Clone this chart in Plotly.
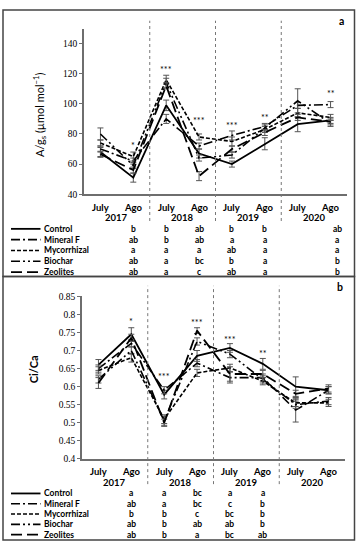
import plotly.graph_objects as go

# ---------------- data ----------------
months = ["July", "Ago", "July", "Ago", "July", "Ago", "July", "Ago"]
years = ["2017", "2018", "2019", "2020"]
series_names = ["Control", "Mineral F", "Mycorrhizal", "Biochar", "Zeolites"]

# panel a : A/gs
a_control = [68, 51, 99, 67, 60, 73.5, 86.5, 89]
a_mineral = [70, 62, 90, 72, 79, 85, 99, 99.5]
a_myco = [74, 65, 116, 78, 75, 83, 94, 91]
a_biochar = [80, 59, 114, 64, 66, 84, 102, 87]
a_zeo = [66.5, 56, 112, 52, 70, 81, 91, 88]

a_err_control = [3, 3, 3.5, 3, 2, 4, 5, 2]
a_err_mineral = [2, 2, 3, 2, 3, 2, 2, 2]
a_err_myco = [2, 3, 3, 2, 3, 2, 3, 2]
a_err_biochar = [4, 2, 3, 2, 2, 2, 8, 2]
a_err_zeo = [2, 2, 2, 3, 2, 2, 2, 2]

# panel b : Ci/Ca
b_control = [0.66, 0.745, 0.578, 0.685, 0.707, 0.663, 0.60, 0.59]
b_mineral = [0.65, 0.72, 0.59, 0.665, 0.625, 0.625, 0.535, 0.59]
b_myco = [0.645, 0.68, 0.51, 0.638, 0.652, 0.615, 0.555, 0.555]
b_biochar = [0.62, 0.70, 0.505, 0.725, 0.69, 0.62, 0.55, 0.56]
b_zeo = [0.61, 0.735, 0.50, 0.755, 0.635, 0.635, 0.58, 0.595]

b_err_control = [0.015, 0.018, 0.012, 0.015, 0.012, 0.015, 0.027, 0.01]
b_err_mineral = [0.01, 0.01, 0.01, 0.01, 0.015, 0.01, 0.033, 0.01]
b_err_myco = [0.01, 0.012, 0.012, 0.01, 0.01, 0.01, 0.01, 0.01]
b_err_biochar = [0.01, 0.01, 0.012, 0.01, 0.01, 0.01, 0.01, 0.01]
b_err_zeo = [0.015, 0.01, 0.01, 0.008, 0.02, 0.01, 0.01, 0.01]

# significance stars (category index, text, value)
a_star_x = [1, 2, 3, 4, 5, 7]
a_star_text = ["*", "***", "***", "***", "**", "**"]
a_star_y = [72.4, 122.5, 88.7, 85.4, 90.8, 107.1]

b_star_x = [1, 2, 3, 4, 5]
b_star_text = ["*", "***", "***", "***", "**"]
b_star_y = [0.779, 0.628, 0.778, 0.730, 0.692]

# letter table
a_letter_x = [1, 2, 3, 4, 5, 7.2]
a_letters = [
    ["b", "b", "ab", "b", "b", "ab"],
    ["ab", "b", "ab", "a", "a", "a"],
    ["a", "a", "a", "ab", "a", "a"],
    ["ab", "a", "bc", "b", "a", "b"],
    ["ab", "a", "c", "ab", "a", "b"],
]
b_letter_x = [1, 2, 3, 4, 5]
b_letters = [
    ["a", "a", "bc", "a", "a"],
    ["ab", "a", "bc", "c", "b"],
    ["b", "b", "c", "bc", "b"],
    ["ab", "b", "ab", "ab", "b"],
    ["ab", "b", "a", "bc", "ab"],
]

a_tickvals = [40, 60, 80, 100, 120, 140]
b_tickvals = [0.4, 0.45, 0.5, 0.55, 0.6, 0.65, 0.7, 0.75, 0.8, 0.85]
b_ticktext = ["0.4", "0.45", "0.5", "0.55", "0.6", "0.65", "0.7", "0.75", "0.8", "0.85"]

# ---------------- styling ----------------
W, H = 358, 550
def px(x): return x / W
def py(y): return 1 - y / H

dashes = ["solid", "9px,3px,2px,3px", "4px,2px", "9px,3px,2px,3px,2px,3px", "11px,5px"]
widths = [1.8, 1.6, 1.6, 1.6, 1.8]
SANS = "Lato"
SERIF = "Liberation Serif"
AX = "#6e6e6e"
ERR = "#555555"

xs = list(range(8))
a_vals = [a_control, a_mineral, a_myco, a_biochar, a_zeo]
a_errs = [a_err_control, a_err_mineral, a_err_myco, a_err_biochar, a_err_zeo]
b_vals = [b_control, b_mineral, b_myco, b_biochar, b_zeo]
b_errs = [b_err_control, b_err_mineral, b_err_myco, b_err_biochar, b_err_zeo]

fig = go.Figure()
for i in range(5):
    fig.add_trace(go.Scatter(
        x=xs, y=a_vals[i], mode="lines", name=series_names[i],
        line=dict(color="black", width=widths[i], dash=dashes[i]),
        error_y=dict(type="data", array=a_errs[i], color=ERR, thickness=1, width=3),
        xaxis="x", yaxis="y", showlegend=False))
for i in range(5):
    fig.add_trace(go.Scatter(
        x=xs, y=b_vals[i], mode="lines", name=series_names[i],
        line=dict(color="black", width=widths[i], dash=dashes[i]),
        error_y=dict(type="data", array=b_errs[i], color=ERR, thickness=1, width=3),
        xaxis="x2", yaxis="y2", showlegend=False))

xcommon = dict(range=[-0.5, 7.5], showticklabels=False, ticks="", showgrid=False,
               zeroline=False, showline=True, linecolor=AX, linewidth=1.5, fixedrange=True)
ycommon = dict(showgrid=False, zeroline=False, showline=True, linecolor=AX, linewidth=1.5,
               ticks="outside", ticklen=3, tickcolor=AX,
               tickfont=dict(family=SERIF, size=9.5, color="black"))

fig.update_layout(
    width=W, height=H, margin=dict(l=0, r=0, t=0, b=0),
    paper_bgcolor="white", plot_bgcolor="white",
    xaxis=dict(domain=[px(84), px(347)], anchor="y", **xcommon),
    yaxis=dict(domain=[py(192.7), py(24)], anchor="x", range=[40, 150],
               tickvals=a_tickvals, **ycommon),
    xaxis2=dict(domain=[px(82), px(345)], anchor="y2", **xcommon),
    yaxis2=dict(domain=[py(462.3), py(296.7)], anchor="x2", range=[0.4, 0.85],
                tickvals=b_tickvals, ticktext=b_ticktext, **ycommon),
)

shapes = []
ann = []

def note(**kw):
    kw.setdefault("showarrow", False)
    kw.setdefault("xanchor", "center")
    kw.setdefault("yanchor", "middle")
    ann.append(kw)

# panel boxes
shapes.append(dict(type="rect", xref="paper", yref="paper", x0=px(3), x1=px(354.5),
                   y0=py(276.5), y1=py(5), line=dict(color="#444", width=1.5)))
shapes.append(dict(type="rect", xref="paper", yref="paper", x0=px(3), x1=px(354.5),
                   y0=py(545), y1=py(276.5), line=dict(color="#444", width=1.5)))

# dotted year dividers
for xv in [1.5, 3.5, 5.5]:
    shapes.append(dict(type="line", xref="x", yref="paper", x0=xv, x1=xv,
                       y0=py(220), y1=py(16), line=dict(color="#777", width=1, dash="dot")))
    shapes.append(dict(type="line", xref="x2", yref="paper", x0=xv, x1=xv,
                       y0=py(488), y1=py(286), line=dict(color="#777", width=1, dash="dot")))

lab_font = dict(family=SANS, size=9.5, color="black")
# month / year labels
for i, m in enumerate(months):
    note(xref="x", yref="paper", x=i, y=py(206), text="<b>%s</b>" % m, font=lab_font)
    note(xref="x2", yref="paper", x=i, y=py(475.5), text="<b>%s</b>" % m, font=lab_font)
for j, yr in enumerate(years):
    note(xref="x", yref="paper", x=2 * j + 0.5, y=py(216.5), text="<b>%s</b>" % yr, font=lab_font)
    note(xref="x2", yref="paper", x=2 * j + 0.5, y=py(486), text="<b>%s</b>" % yr, font=lab_font)

# stars
star_font = dict(family=SANS, size=9, color="black")
for xv, t, yv in zip(a_star_x, a_star_text, a_star_y):
    note(xref="x", yref="y", x=xv, y=yv, text=t, font=star_font)
for xv, t, yv in zip(b_star_x, b_star_text, b_star_y):
    note(xref="x2", yref="y2", x=xv, y=yv, text=t, font=star_font)

# legend table
tab_font = dict(family=SANS, size=8.5, color="black")
a_rows = [228, 239, 250, 261, 272]
b_rows = [497.5, 508, 518.5, 529, 539.5]
for k in range(5):
    for rows, axref, letters, lx in [(a_rows, "x", a_letters, a_letter_x),
                                     (b_rows, "x2", b_letters, b_letter_x)]:
        yy = rows[k]
        shapes.append(dict(type="line", xref="paper", yref="paper", x0=px(11), x1=px(40.5),
                           y0=py(yy), y1=py(yy),
                           line=dict(color="black", width=widths[k], dash=dashes[k])))
        note(xref="paper", yref="paper", x=px(42), y=py(yy), xanchor="left",
             text="<b>%s</b>" % series_names[k], font=tab_font)
        for xv, lt in zip(lx, letters[k]):
            note(xref=axref, yref="paper", x=xv, y=py(yy), text="<b>%s</b>" % lt, font=tab_font)

# axis titles
note(xref="paper", yref="paper", x=px(40), y=py(112), textangle=-90,
     text="A/g<sub>s</sub> (µmol mol<sup>−1</sup>)",
     font=dict(family=SANS, size=11, color="black"))
note(xref="paper", yref="paper", x=px(33), y=py(371), textangle=-90,
     text="<b>Ci/Ca</b>", font=dict(family=SANS, size=11, color="black"))

# panel letters
note(xref="paper", yref="paper", x=px(341), y=py(16), text="<b>a</b>",
     font=dict(family=SANS, size=10.5, color="black"))
note(xref="paper", yref="paper", x=px(340), y=py(287), text="<b>b</b>",
     font=dict(family=SANS, size=10.5, color="black"))

fig.update_layout(shapes=shapes, annotations=ann)
fig.write_html("out.html", config={"displayModeBar": False},
               post_script="document.body.style.margin='0';document.body.style.overflow='hidden';")
